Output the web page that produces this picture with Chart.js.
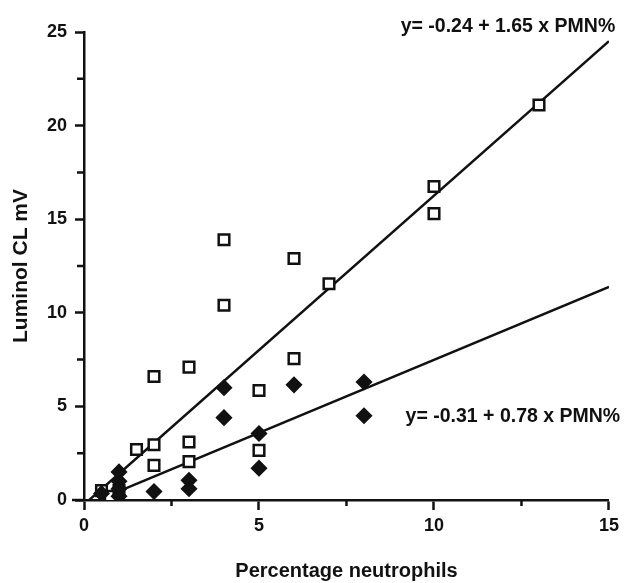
<!DOCTYPE html>
<html><head><meta charset="utf-8">
<script src="https://cdn.jsdelivr.net/npm/chart.js@4/dist/chart.umd.min.js"></script>
<style>html,body{margin:0;padding:0;background:#fff}</style>
</head><body>
<canvas id="c" width="624" height="583"></canvas>
<script>
// ---- data ----
const squareX = [0.5, 0.75, 1, 1.5, 2, 2, 2, 3, 3, 3, 4, 4, 5, 5, 6, 6, 7, 10, 10, 13];
const squareY = [0.5, 0.2, 0.5, 2.7, 2.95, 1.85, 6.6, 7.1, 3.1, 2.05, 13.9, 10.4, 5.85, 2.65, 12.9, 7.55, 11.55, 16.75, 15.3, 21.1];
const diamondX = [0.5, 1, 1, 1, 1, 2, 3, 3, 4, 4, 5, 5, 6, 8, 8];
const diamondY = [0.35, 1.5, 1.0, 0.6, 0.2, 0.45, 1.05, 0.6, 6.0, 4.4, 3.55, 1.7, 6.15, 6.3, 4.5];
const upperLineX = [0.15, 15];
const upperLineY = [0, 24.51];
const lowerLineX = [0.9, 15];
const lowerLineY = [0.39, 11.39];
const equations = ['y= -0.24 + 1.65 x PMN%', 'y= -0.31 + 0.78 x PMN%'];
const xTitle = 'Percentage neutrophils';
const yTitle = 'Luminol CL mV';
const xMin = 0, xMax = 15, yMin = 0, yMax = 25, tickStep = 2.5, labelStep = 5;

const FONT = "'Liberation Sans', Arial, Helvetica, sans-serif";
const pts = (xs, ys) => xs.map((x, i) => ({x, y: ys[i]}));
const isMajor = v => Math.abs(v % labelStep) < 1e-9;

const notesPlugin = {
  id: 'notes',
  afterDraw(chart) {
    const {ctx, scales: {x, y}} = chart;
    ctx.save();
    ctx.fillStyle = '#111';
    ctx.font = 'bold 19.5px ' + FONT;
    ctx.textAlign = 'right';
    ctx.textBaseline = 'middle';
    ctx.fillText(equations[0], x.getPixelForValue(15.18), y.getPixelForValue(25.3));
    ctx.fillText(equations[1], x.getPixelForValue(15.32), y.getPixelForValue(4.44));
    ctx.strokeStyle = '#111';
    ctx.lineWidth = 2.5;
    const y0 = y.getPixelForValue(0), x0 = x.getPixelForValue(0);
    // small extension of the x axis to the left of the origin
    ctx.beginPath();
    ctx.moveTo(x0 - 12, y0);
    ctx.lineTo(x0, y0);
    ctx.stroke();
    // shorter minor ticks
    ctx.beginPath();
    x.ticks.forEach(t => { if (!isMajor(t.value)) { const px = x.getPixelForValue(t.value); ctx.moveTo(px, y0); ctx.lineTo(px, y0 + 6); } });
    y.ticks.forEach(t => { if (!isMajor(t.value)) { const py = y.getPixelForValue(t.value); ctx.moveTo(x0, py); ctx.lineTo(x0 - 7, py); } });
    ctx.stroke();
    ctx.restore();
  }
};

const tickCb = v => (isMajor(v) ? String(v) : '');
const tickCol = c => (isMajor(c.tick.value) ? '#111' : 'rgba(0,0,0,0)');

new Chart(document.getElementById('c'), {
  type: 'scatter',
  data: {
    datasets: [
      {type: 'line', data: pts(upperLineX, upperLineY), borderColor: '#111', borderWidth: 2.5, pointRadius: 0, fill: false, order: 3},
      {type: 'line', data: pts(lowerLineX, lowerLineY), borderColor: '#111', borderWidth: 2.5, pointRadius: 0, fill: false, order: 3},
      {data: pts(squareX, squareY), pointStyle: 'rect', pointRadius: 7.5, borderWidth: 2.5, borderColor: '#111', backgroundColor: '#fff', order: 2},
      {data: pts(diamondX, diamondY), pointStyle: 'rectRot', pointRadius: 7.5, borderWidth: 1.5, borderColor: '#111', backgroundColor: '#111', order: 1}
    ]
  },
  options: {
    responsive: false,
    animation: false,
    events: [],
    layout: {padding: {top: 32, right: 12, left: 0, bottom: 0}},
    plugins: {legend: {display: false}, tooltip: {enabled: false}},
    scales: {
      x: {
        type: 'linear', min: xMin, max: xMax,
        afterFit: s => { s.height = 83; },
        ticks: {stepSize: tickStep, callback: tickCb, color: '#111', font: {family: FONT, size: 18, weight: 'bold'}, padding: 5, maxRotation: 0, autoSkip: false},
        grid: {drawOnChartArea: false, drawTicks: true, tickLength: 10, tickWidth: 2.5, tickColor: tickCol},
        border: {display: true, color: '#111', width: 2.5},
        title: {display: true, text: xTitle, color: '#111', font: {family: FONT, size: 20, weight: 'bold'}, padding: {top: 0, bottom: 0}}
      },
      y: {
        type: 'linear', min: yMin, max: yMax,
        afterFit: s => { s.width = 84; },
        ticks: {stepSize: tickStep, callback: tickCb, color: '#111', font: {family: FONT, size: 18, weight: 'bold'}, padding: 8, autoSkip: false},
        grid: {drawOnChartArea: false, drawTicks: true, tickLength: 9, tickWidth: 2.5, tickColor: tickCol},
        border: {display: true, color: '#111', width: 2.5},
        title: {display: true, text: yTitle, color: '#111', font: {family: FONT, size: 21, weight: 'bold'}, padding: {top: 9, bottom: 0}}
      }
    }
  },
  plugins: [notesPlugin]
});
</script>
</body></html>
